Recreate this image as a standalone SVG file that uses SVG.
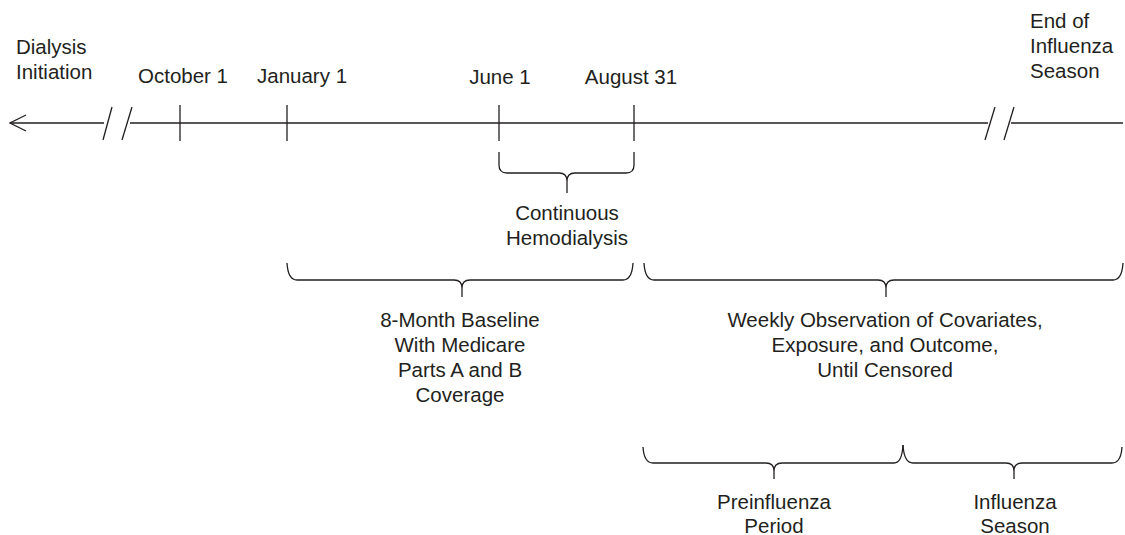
<svg xmlns="http://www.w3.org/2000/svg" width="1125" height="535" viewBox="0 0 1125 535">
<style>
.t{font-family:"Liberation Sans",Arial,sans-serif;font-size:20.5px;fill:#231f20}
.c{text-anchor:middle}
.ln{stroke:#231f20;stroke-width:1.3;fill:none}
</style>
<defs>
<marker id="openArrow" viewBox="0 0 18 18" refX="1" refY="9" markerWidth="18" markerHeight="18" markerUnits="userSpaceOnUse" orient="auto">
<polyline points="17,1 1,9 17,17" fill="none" stroke="#231f20" stroke-width="1.3"/>
</marker>
</defs>
<rect width="1125" height="535" fill="#ffffff"/>
<g id="connectors">
<line class="ln" x1="10" y1="123" x2="104" y2="123" marker-start="url(#openArrow)"/>
<line class="ln" x1="103" y1="140" x2="112" y2="107"/>
<line class="ln" x1="122" y1="140" x2="132" y2="107"/>
<line class="ln" x1="130" y1="123" x2="988" y2="123"/>
<line class="ln" x1="985" y1="140" x2="995" y2="107"/>
<line class="ln" x1="1004" y1="140" x2="1014" y2="107"/>
<line class="ln" x1="1011" y1="123" x2="1123" y2="123"/>
<line class="ln" x1="180" y1="105" x2="180" y2="141"/>
<line class="ln" x1="287" y1="105" x2="287" y2="141"/>
<line class="ln" x1="499" y1="105" x2="499" y2="141"/>
<line class="ln" x1="634" y1="105" x2="634" y2="141"/>
<path class="ln" d="M499 152 L499 165 Q499 173 507 173 L559 173 Q567 173 567 181 L567 193 M567 181 Q567 173 575 173 L626 173 Q634 173 634 165 L634 152"/>
<path class="ln" d="M287 263 Q288 280 297 280 L454 280 Q462 280 462 288 L462 297 M462 288 Q462 280 470 280 L623 280 Q632 280 633 263"/>
<path class="ln" d="M644 263 Q645 280 654 280 L878 280 Q886 280 886 288 L886 297 M886 288 Q886 280 894 280 L1113 280 Q1122 280 1123 263"/>
<path class="ln" d="M643 447 Q644 463 653 463 L766 463 Q774 463 774 471 L774 479 M774 471 Q774 463 782 463 L894 463 Q902 463 903 445"/>
<path class="ln" d="M903 445 Q904 463 913 463 L1006 463 Q1014 463 1014 471 L1014 479 M1014 471 Q1014 463 1022 463 L1112 463 Q1121 463 1122 447"/>
</g>
<g id="dialysis-initiation"><text class="t" x="16" y="54">Dialysis</text><text class="t" x="16" y="79">Initiation</text></g>
<g id="october-1"><text class="t" x="138" y="83">October 1</text></g>
<g id="january-1"><text class="t" x="257" y="83">January 1</text></g>
<g id="june-1"><text class="t c" x="500" y="84">June 1</text></g>
<g id="august-31"><text class="t c" x="631" y="84">August 31</text></g>
<g id="end-of-season"><text class="t" x="1030" y="28">End of</text><text class="t" x="1030" y="53">Influenza</text><text class="t" x="1030" y="78">Season</text></g>
<g id="continuous-hemodialysis"><text class="t c" x="567" y="220">Continuous</text><text class="t c" x="567" y="245">Hemodialysis</text></g>
<g id="baseline"><text class="t c" x="460" y="327">8-Month Baseline</text><text class="t c" x="460" y="352">With Medicare</text><text class="t c" x="460" y="377">Parts A and B</text><text class="t c" x="460" y="402">Coverage</text></g>
<g id="weekly-observation"><text class="t c" x="885" y="327">Weekly Observation of Covariates,</text><text class="t c" x="885" y="352">Exposure, and Outcome,</text><text class="t c" x="885" y="377">Until Censored</text></g>
<g id="preinfluenza-period"><text class="t c" x="774" y="509">Preinfluenza</text><text class="t c" x="774" y="533">Period</text></g>
<g id="influenza-season"><text class="t c" x="1015" y="509">Influenza</text><text class="t c" x="1015" y="533">Season</text></g>
</svg>
